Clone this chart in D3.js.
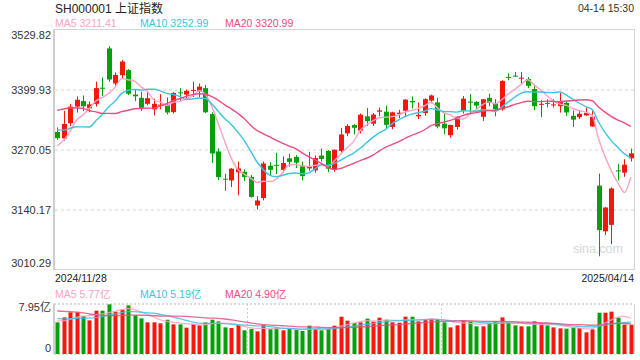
<!DOCTYPE html>
<html><head><meta charset="utf-8">
<script src="https://cdn.jsdelivr.net/npm/d3@7"></script>
<style>
body{margin:0;background:#fff;}
svg{display:block;font-family:"Liberation Sans",Arial,"Noto Sans CJK SC",sans-serif;}
</style>
</head><body>
<svg id="c" width="640" height="360"></svg>
<script>
// ---------- data ----------
const dates = ["2024/11/28","2024/11/29",
"2024/12/02","2024/12/03","2024/12/04","2024/12/05","2024/12/06","2024/12/09","2024/12/10","2024/12/11","2024/12/12","2024/12/13",
"2024/12/16","2024/12/17","2024/12/18","2024/12/19","2024/12/20","2024/12/23","2024/12/24","2024/12/25","2024/12/26","2024/12/27","2024/12/30","2024/12/31",
"2025/01/02","2025/01/03","2025/01/06","2025/01/07","2025/01/08","2025/01/09","2025/01/10","2025/01/13","2025/01/14","2025/01/15","2025/01/16","2025/01/17",
"2025/01/20","2025/01/21","2025/01/22","2025/01/23","2025/01/24","2025/01/27",
"2025/02/05","2025/02/06","2025/02/07","2025/02/10","2025/02/11","2025/02/12","2025/02/13","2025/02/14","2025/02/17","2025/02/18","2025/02/19","2025/02/20","2025/02/21",
"2025/02/24","2025/02/25","2025/02/26","2025/02/27","2025/02/28",
"2025/03/03","2025/03/04","2025/03/05","2025/03/06","2025/03/07","2025/03/10","2025/03/11","2025/03/12","2025/03/13","2025/03/14","2025/03/17","2025/03/18",
"2025/03/19","2025/03/20","2025/03/21","2025/03/24","2025/03/25","2025/03/26","2025/03/27","2025/03/28","2025/03/31",
"2025/04/01","2025/04/02","2025/04/03","2025/04/07","2025/04/08","2025/04/09","2025/04/10","2025/04/11","2025/04/14"];

const opens = [3309,3295,3328,3364,3376,3360,3370,3405,3490,3414,3432,3443,3390,3383,3370,3358,3366,3367,3352,3395,3390,3398,3397,3404,
3347.94,3267,3208,3204,3222,3223,3212,3150,3166,3236,3238,3227,3252,3255,3236,3234,3226,3258,
3268,3227,3268,3306,3324,3312,3343,3327,3353,3353,3320,3348,3355,3376,3343,3350,3377,3373,
3327,3302,3320,3355,3375,3374,3342,3383,3371,3358,3428,3431,3425,3424,3402,3368,3372,3367,3365,3372,3344,
3341,3345,3321,3193,3094,3108,3226,3221,3252];
const highs = [3319,3355,3370,3386,3388,3375,3418,3427,3495,3438,3465,3445,3402,3396,3396,3381,3391,3384,3395,3404,3401,3418,3414,3411,
3351.74,3273.6,3219,3231,3245,3228,3216,3170,3245,3244,3264,3256,3262,3259,3245,3266,3258,3273,
3270,3271,3318,3326,3326,3349,3361,3350,3362,3366,3353,3357,3380,3386,3373,3382,3390,3383,
3350,3325,3343,3387,3391,3376,3380,3392,3380,3421,3436,3439,3439,3428,3412,3378,3380,3380,3394,3375,3356,
3355,3362,3355,3219,3147,3189,3240,3250,3273];
const lows = [3292,3290,3322,3351,3354,3352,3364,3387,3418,3410,3425,3389,3376,3355,3367,3345,3358,3347,3349,3376,3382,3385,3385,3350,
3242.09,3205,3182,3190,3172,3203,3167,3141,3161,3215,3218,3222,3234,3231,3204,3225,3221,3245,
3222,3223,3264,3300,3304,3306,3322,3322,3343,3315,3315,3339,3341,3360,3337,3344,3371,3317,
3304,3297,3314,3349,3349,3358,3333,3365,3343,3355,3421,3428,3414,3404,3356,3341,3362,3362,3351,3344,3320,
3337,3344,3320,3040,3086,3066,3204,3212,3245];
const closes = [3295.70,3326.46,3363.98,3378.81,3364.65,3368.86,3404.08,3402.53,3422.66,3432.49,3461.50,3391.88,3386.33,3361.49,3382.21,3370.03,3368.07,3351.26,3393.53,3393.35,3398.08,3400.14,3407.33,3351.76,
3262.56,3211.43,3206.92,3229.64,3230.17,3211.39,3168.52,3160.76,3240.94,3227.12,3236.03,3241.82,3244.38,3242.62,3213.62,3230.16,3252.63,3250.60,
3229.49,3270.66,3303.67,3322.17,3318.06,3346.39,3332.48,3346.72,3355.83,3324.49,3351.54,3350.78,3379.11,3373.03,3346.04,3380.21,3388.06,3320.90,
3316.93,3324.21,3341.96,3381.10,3372.55,3366.16,3379.83,3371.92,3358.73,3419.56,3426.43,3429.76,3426.43,3408.95,3364.83,3370.03,3369.98,3368.70,3373.75,3351.31,3335.75,
3348.44,3350.13,3342.01,3096.58,3145.55,3186.81,3223.64,3238.23,3262.81];
// closes of the 19 sessions before the window (for the moving averages)
const preCloses = [3272.01,3310.21,3386.99,3383.81,3470.66,3452.30,3470.07,3421.97,3439.28,3379.84,3330.73,3323.85,3346.01,3367.99,3370.40,3267.19,3263.76,3259.76,3309.78];

// volume, 亿
const volumes = [5.16,5.97,6.79,6.79,6.19,5.48,7.06,7.06,8.09,6.90,7.22,7.93,6.30,5.81,5.16,5.16,5.00,5.59,4.83,4.83,4.29,4.89,4.67,5.16,
5.59,5.32,4.34,4.24,4.72,3.86,4.07,3.69,4.72,4.07,4.29,3.86,4.07,3.91,3.75,4.62,4.07,3.86,
4.07,4.62,6.08,5.43,5.05,5.16,5.76,5.27,5.92,5.59,5.16,5.10,6.08,6.08,5.32,5.59,5.76,5.70,
5.16,4.34,4.67,5.48,5.32,4.51,4.51,5.05,5.32,5.97,5.05,4.67,4.51,4.51,5.32,5.05,4.67,4.34,4.18,4.13,4.34,
4.24,3.53,4.02,6.73,6.73,6.90,5.92,4.78,4.78];
const preVolumes = [7.8,7.0,8.2,9.0,9.4,10.0,8.6,8.4,7.2,6.9,6.8,6.4,6.0,5.7,6.0,6.3,5.5,4.8,5.3];

const priceTicks = [3529.82,3399.93,3270.05,3140.17,3010.29];
const volTickLabels = ["7.95亿","0"];
const volTickValues = [7.95,0];
const maPeriods = [5,10,20];
const maNames = ["MA5","MA10","MA20"];
const maLegendPrice = ["3211.41","3252.99","3320.99"];
const maLegendVol = ["5.77亿","5.19亿","4.90亿"];
const title = "SH000001 上证指数";
const timeStamp = "04-14 15:30";

// ---------- layout ----------
const L=54, R=634, T=30, B=270, VT=304, VB=354;
const maColors = ["#f9a3c5","#3cc3e3","#ec4b83"];
const UP="#f5170c", DOWN="#08a00a";
const svg = d3.select("#c");
const n = closes.length;

const x = d3.scaleBand().domain(d3.range(n)).range([L,R]).paddingInner(0.3).paddingOuter(0.15);
const cx = i => x(i) + x.bandwidth()/2;
const y = d3.scaleLinear().domain([3010.29,3529.82]).range([B,T]);
const yv = d3.scaleLinear().domain([0,8.15]).range([VB,VT]);

function movingAvg(arr, pre, k){
  const all = pre.concat(arr);
  return arr.map((_,i)=> d3.mean(all.slice(i+pre.length-k+1, i+pre.length+1)));
}

// header
svg.append("text").attr("x",55).attr("y",13).attr("font-size",12).attr("fill","#222").text(title);
svg.append("text").attr("x",634).attr("y",12).attr("text-anchor","end").attr("font-size",10.5).attr("fill","#333").text(timeStamp);
const legX = [55,140,225];
maNames.forEach((m,k)=>{
  svg.append("text").attr("x",legX[k]).attr("y",27).attr("font-size",10.5).attr("fill",maColors[k]).text(m+" "+maLegendPrice[k]);
  svg.append("text").attr("x",legX[k]).attr("y",298).attr("font-size",10.5).attr("fill",maColors[k]).text(m+" "+maLegendVol[k]);
});

// main panel frame + grid
svg.append("rect").attr("x",L+0.5).attr("y",T-0.5).attr("width",R-L).attr("height",B-T)
  .attr("fill","none").attr("stroke","#d4d4d4").attr("stroke-width",1);
svg.append("line").attr("x1",L).attr("x2",L).attr("y1",T-1).attr("y2",B).attr("stroke","#cfcfcf").attr("stroke-width",2);
svg.selectAll(".grid").data(priceTicks.slice(1,-1)).enter().append("line")
  .attr("x1",L+1).attr("x2",R).attr("y1",d=>Math.round(y(d))).attr("y2",d=>Math.round(y(d)))
  .attr("stroke","#e3e3e3").attr("stroke-width",1.5).attr("stroke-dasharray","3,3");

// price labels
svg.selectAll(".pl").data(priceTicks).enter().append("text")
  .attr("x",51).attr("text-anchor","end").attr("font-size",11).attr("fill","#333")
  .attr("y",(d,i)=> i===0 ? y(d)+9 : (i===priceTicks.length-1 ? y(d)-3 : y(d)+4))
  .text(d=>d.toFixed(2));

// watermark
svg.append("text").attr("x",623).attr("y",253).attr("text-anchor","end").attr("font-size",12.5)
  .attr("fill","#d6d6d6").text("sina.com");

// candles
const clipId="clipMain";
svg.append("clipPath").attr("id",clipId).append("rect").attr("x",L+1).attr("y",T).attr("width",R-L-1).attr("height",B-T);
const gMain = svg.append("g").attr("clip-path",`url(#${clipId})`);
const idx = d3.range(n);
const col = i => closes[i] >= opens[i] ? UP : DOWN;
gMain.selectAll(".wick").data(idx).enter().append("line")
  .attr("x1",i=>Math.round(cx(i))+0.5).attr("x2",i=>Math.round(cx(i))+0.5)
  .attr("y1",i=>y(highs[i])).attr("y2",i=>y(lows[i]))
  .attr("stroke",col).attr("stroke-width",1);
gMain.selectAll(".body").data(idx).enter().append("rect")
  .attr("x",i=>Math.round(cx(i))-2).attr("width",5)
  .attr("y",i=>y(Math.max(opens[i],closes[i])))
  .attr("height",i=>Math.max(1,Math.abs(y(opens[i])-y(closes[i]))))
  .attr("fill",col);

// MA lines (price)
maPeriods.forEach((p,k)=>{
  const m = movingAvg(closes, preCloses, p);
  gMain.append("path").datum(m)
    .attr("d", d3.line().x((d,i)=>cx(i)).y(d=>y(d)).curve(d3.curveMonotoneX))
    .attr("fill","none").attr("stroke",maColors[k]).attr("stroke-width",1.4);
});

// date labels
svg.append("text").attr("x",55).attr("y",282).attr("font-size",10.5).attr("fill","#222").text(dates[0]);
svg.append("text").attr("x",634).attr("y",282).attr("text-anchor","end").attr("font-size",10.5).attr("fill","#222").text(dates[n-1]);

// volume panel
svg.append("line").attr("x1",L).attr("x2",R).attr("y1",VT).attr("y2",VT).attr("stroke","#cfcfcf").attr("stroke-width",1.5).attr("stroke-dasharray","2,2");
svg.append("line").attr("x1",L).attr("x2",R).attr("y1",VB+0.5).attr("y2",VB+0.5).attr("stroke","#d8d8d8").attr("stroke-width",1).attr("stroke-dasharray","2,2");
svg.append("line").attr("x1",L).attr("x2",L).attr("y1",VT).attr("y2",VB).attr("stroke","#cfcfcf").attr("stroke-width",2);
svg.append("line").attr("x1",R+0.5).attr("x2",R+0.5).attr("y1",VT).attr("y2",VB).attr("stroke","#cfcfcf").attr("stroke-width",1);
[30,60].forEach(k=>{
  const xx = Math.round(x(k) - x.step()*x.paddingInner()/2)+0.5;
  svg.append("line").attr("x1",xx).attr("x2",xx).attr("y1",VT).attr("y2",VB).attr("stroke","#cfcfcf").attr("stroke-width",1).attr("stroke-dasharray","2,2");
});
svg.selectAll(".vl").data(volTickValues).enter().append("text")
  .attr("x",51).attr("text-anchor","end").attr("font-size",11).attr("fill","#333")
  .attr("y",(d,i)=> i===0 ? yv(d)+6 : yv(d)-2)
  .text((d,i)=>volTickLabels[i]);

const gVol = svg.append("g");
gVol.selectAll(".vbar").data(idx).enter().append("rect")
  .attr("x",i=>Math.round(cx(i))-1.5).attr("width",4)
  .attr("y",i=>yv(volumes[i])).attr("height",i=>VB-yv(volumes[i]))
  .attr("fill",col);
maPeriods.forEach((p,k)=>{
  const m = movingAvg(volumes, preVolumes, p);
  gVol.append("path").datum(m)
    .attr("d", d3.line().x((d,i)=>cx(i)).y(d=>yv(d)).curve(d3.curveBasis))
    .attr("fill","none").attr("stroke",maColors[k]).attr("stroke-width",1.3).attr("opacity",0.85);
});
</script>
</body></html>
